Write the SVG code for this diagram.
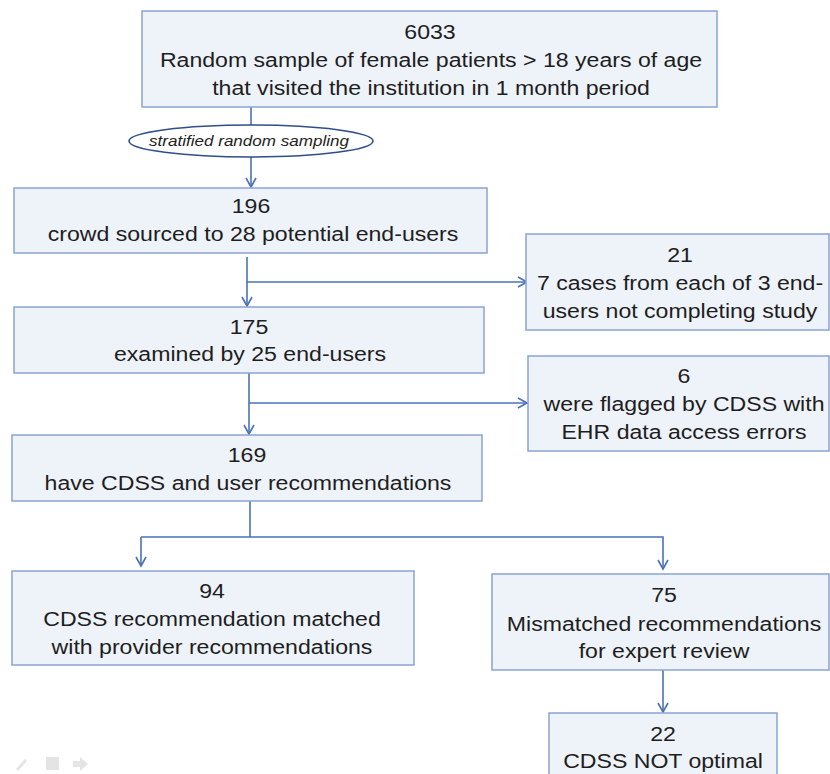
<svg xmlns="http://www.w3.org/2000/svg" width="830" height="774" viewBox="0 0 830 774">
<defs>
<marker id="arr" markerWidth="12" markerHeight="12" refX="10" refY="6" orient="auto" markerUnits="userSpaceOnUse">
<path d="M1,1 L10,6 L1,11" fill="none" stroke="#4a72b8" stroke-width="1.6"/>
</marker>
<style>
.box{fill:#eef2f9;stroke:#8aa4d2;stroke-width:1.5}
.t{font-family:"Liberation Sans",Arial,sans-serif;font-size:21px;fill:#1e1e1e;text-anchor:middle}
.c{fill:none;stroke:#4a72b8;stroke-width:1.6}
.ic{fill:#e4e4e4}
</style>
</defs>
<rect width="830" height="774" fill="#ffffff"/>
<g id="connectors">
<path class="c" d="M251,107 V125"/>
<path class="c" d="M251,157 V187" marker-end="url(#arr)"/>
<path class="c" d="M247,257 V306" marker-end="url(#arr)"/>
<path class="c" d="M247,282 H527" marker-end="url(#arr)"/>
<path class="c" d="M249,373 V434" marker-end="url(#arr)"/>
<path class="c" d="M249,403 H527" marker-end="url(#arr)"/>
<path class="c" d="M250,501 V537"/>
<path class="c" d="M141,537 H663 V569" marker-end="url(#arr)"/>
<path class="c" d="M141,537 V566" marker-end="url(#arr)"/>
<path class="c" d="M663,670 V712" marker-end="url(#arr)"/>
</g>
<g id="n6033">
<rect class="box" x="142" y="11" width="575" height="96"/>
<text class="t" transform="translate(430,39) scale(1.1,1)">6033</text>
<text class="t" transform="translate(431,67) scale(1.1,1)">Random sample of female patients &gt; 18 years of age</text>
<text class="t" transform="translate(431,95) scale(1.1,1)">that visited the institution in 1 month period</text>
</g>
<g id="sampling">
<ellipse cx="251" cy="141" rx="122" ry="16" fill="#ffffff" stroke="#2f4f8a" stroke-width="1.6"/>
<text transform="translate(249,146) scale(1.1,1)" style="font-family:'Liberation Sans',Arial,sans-serif;font-size:15.5px;font-style:italic;fill:#1e1e1e;text-anchor:middle">stratified random sampling</text>
</g>
<g id="n196">
<rect class="box" x="14" y="188" width="473" height="65"/>
<text class="t" transform="translate(251,213) scale(1.1,1)">196</text>
<text class="t" transform="translate(253,241) scale(1.1,1)">crowd sourced to 28 potential end-users</text>
</g>
<g id="n21">
<rect class="box" x="526" y="234" width="303" height="96"/>
<text class="t" transform="translate(680,262) scale(1.1,1)">21</text>
<text class="t" transform="translate(680,290) scale(1.1,1)">7 cases from each of 3 end-</text>
<text class="t" transform="translate(680,318) scale(1.1,1)">users not completing study</text>
</g>
<g id="n175">
<rect class="box" x="14" y="307" width="470" height="66"/>
<text class="t" transform="translate(249,334) scale(1.1,1)">175</text>
<text class="t" transform="translate(250,361) scale(1.1,1)">examined by 25 end-users</text>
</g>
<g id="n6">
<rect class="box" x="528" y="356" width="301" height="95"/>
<text class="t" transform="translate(684,383) scale(1.1,1)">6</text>
<text class="t" transform="translate(684,411) scale(1.1,1)">were flagged by CDSS with</text>
<text class="t" transform="translate(684,439) scale(1.1,1)">EHR data access errors</text>
</g>
<g id="n169">
<rect class="box" x="12" y="435" width="470" height="66"/>
<text class="t" transform="translate(247,462) scale(1.1,1)">169</text>
<text class="t" transform="translate(248,490) scale(1.1,1)">have CDSS and user recommendations</text>
</g>
<g id="n94">
<rect class="box" x="12" y="571" width="402" height="94"/>
<text class="t" transform="translate(212,598) scale(1.1,1)">94</text>
<text class="t" transform="translate(212,626) scale(1.1,1)">CDSS recommendation matched</text>
<text class="t" transform="translate(212,654) scale(1.1,1)">with provider recommendations</text>
</g>
<g id="n75">
<rect class="box" x="492" y="574" width="337" height="96"/>
<text class="t" transform="translate(664,602) scale(1.1,1)">75</text>
<text class="t" transform="translate(664,631) scale(1.1,1)">Mismatched recommendations</text>
<text class="t" transform="translate(664,658) scale(1.1,1)">for expert review</text>
</g>
<g id="n22">
<rect class="box" x="549" y="713" width="228" height="70"/>
<text class="t" transform="translate(663,741) scale(1.1,1)">22</text>
<text class="t" transform="translate(663,768) scale(1.1,1)">CDSS NOT optimal</text>
</g>
<g id="controls">
<path class="ic" d="M16,769 L25,759 L27,761 L18,771 Z"/>
<rect class="ic" x="46" y="757" width="13" height="13"/>
<path class="ic" d="M73,761 H80 V757 L88,764 L80,771 V767 H73 Z"/>
</g>
</svg>
